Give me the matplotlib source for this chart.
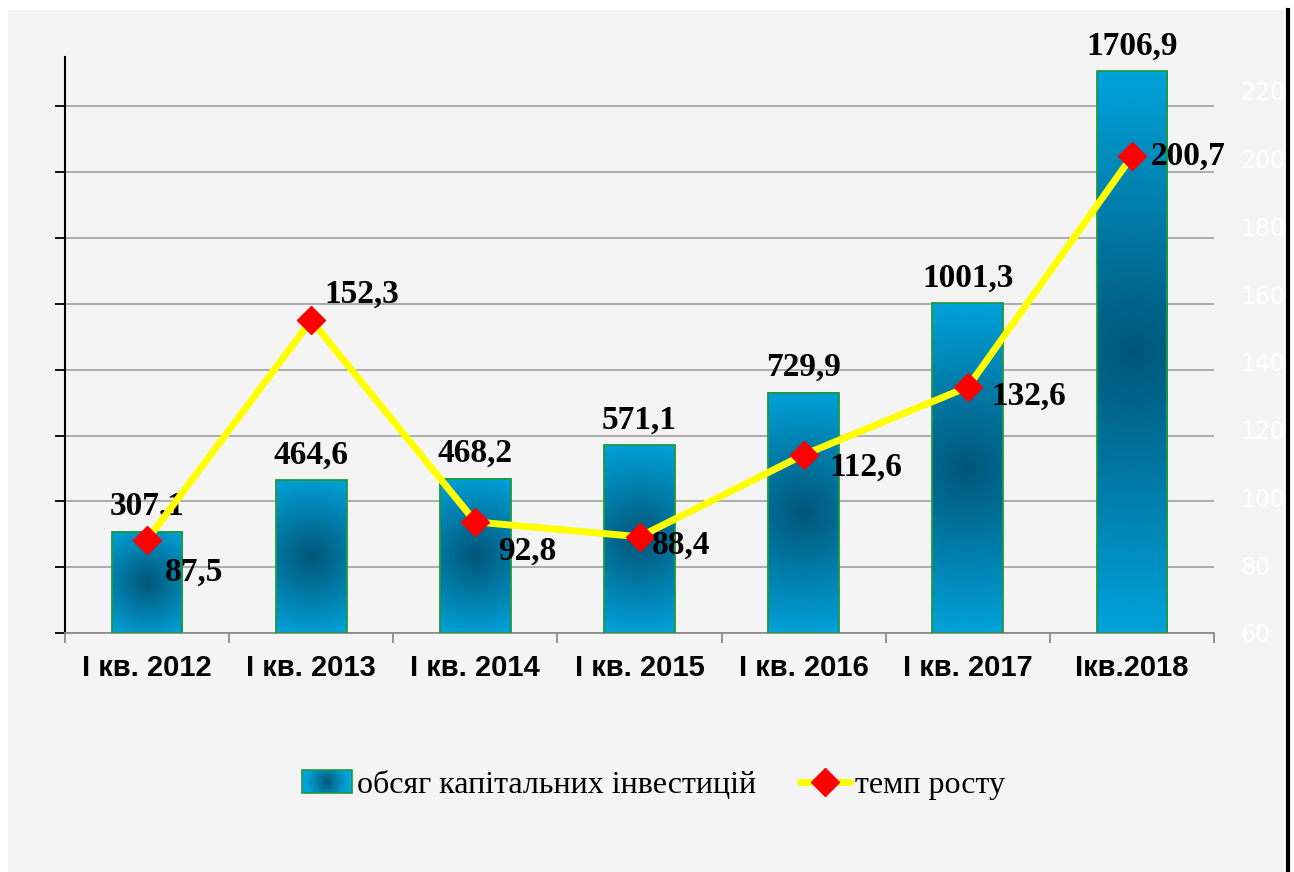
import numpy as np
import matplotlib.pyplot as plt
from matplotlib.patches import Rectangle
from matplotlib.lines import Line2D
from matplotlib.legend_handler import HandlerBase

categories = ['І кв. 2012', 'І кв. 2013', 'І кв. 2014', 'І кв. 2015',
              'І кв. 2016', 'І кв. 2017', 'Ікв.2018']
investment = [307.1, 464.6, 468.2, 571.1, 729.9, 1001.3, 1706.9]
growth_rate = [87.5, 152.3, 92.8, 88.4, 112.6, 132.6, 200.7]
rate_ticks = [60, 80, 100, 120, 140, 160, 180, 200, 220]

# label offsets for the line values, in pixels (x right, y up)
rate_label_offsets = [(47, -32), (51, 26), (52, -29), (42, -8), (62, -12), (61, -9), (56, 0)]

dark = np.array([0, 86, 120]) / 255
light = np.array([0, 163, 219]) / 255


def fmt(v):
    return f'{v:.1f}'.replace('.', ',')


class GradHandler(HandlerBase):
    def create_artists(self, legend, orig_handle, xdescent, ydescent,
                       width, height, fontsize, trans):
        arts = []
        nx, ny = 24, 6
        x0, y0 = -xdescent, -ydescent
        for i in range(nx):
            for j in range(ny):
                u = ((i + 0.5) / nx - 0.5) * width
                w = ((j + 0.5) / ny - 0.5) * height
                d = np.hypot(u, w) / np.hypot(width / 2, height / 2)
                c = dark + (light - dark) * min(d * 1.3, 1)
                arts.append(Rectangle((x0 + i * width / nx, y0 + j * height / ny),
                                      width / nx * 1.05, height / ny * 1.05,
                                      facecolor=c, edgecolor='none', transform=trans))
        arts.append(Rectangle((x0, y0), width, height, fill=False,
                              edgecolor='#1f9a3c', lw=1.2, transform=trans))
        return arts


W, H = 1294, 872
fig = plt.figure(figsize=(W / 100, H / 100), dpi=100)
fig.patches.append(Rectangle((8 / W, 0), (1284 - 8) / W, (H - 10) / H,
                             transform=fig.transFigure, facecolor='#f4f4f4',
                             edgecolor='none', zorder=-10))
fig.add_artist(Line2D([1287.5 / W] * 2, [0, (H - 10) / H], color='black', lw=3,
                      transform=fig.transFigure))

ax = fig.add_axes([65 / W, 239 / H, 1149 / W, 576 / H])
ax.set_facecolor('none')
x = np.arange(len(categories))
ax.set_xlim(-0.5, len(categories) - 0.5)
ax.set_ylim(0, 1750)
ax.set_yticks(range(0, 1601, 200))
ax.set_yticklabels([])
ax.grid(axis='y', color='#a6a6a6', lw=1.3)
ax.set_axisbelow(True)
ax.tick_params(axis='y', length=7, width=1.3, color='black')
for s in ['top', 'right']:
    ax.spines[s].set_visible(False)
ax.spines['left'].set_color('black')
ax.spines['left'].set_linewidth(1.5)
ax.spines['bottom'].set_color('#8c8c8c')
ax.spines['bottom'].set_linewidth(1.3)
ax.set_xticks(x)
ax.set_xticklabels(categories, fontsize=21, fontweight='bold', family='Liberation Sans')
ax.set_xticks(np.arange(-0.5, len(categories), 1), minor=True)
ax.tick_params(axis='x', which='major', length=0, pad=15)
ax.tick_params(axis='x', which='minor', length=7, width=1.3, color='#8c8c8c')

# bars with radial gradient
bw = 0.43
px_x = 1149 / len(categories)
px_y = 576 / 1750
for i, v in enumerate(investment):
    x0 = i - bw / 2
    hw = bw * px_x / 2
    hh = v * px_y / 2
    X = np.linspace(-hw, hw, int(2 * hw))
    Y = np.linspace(-hh, hh, max(int(2 * hh), 2))
    XX, YY = np.meshgrid(X, Y)
    d = np.hypot(XX, YY) / np.hypot(hw, hh)
    img = dark + (light - dark) * d[..., None]
    ax.imshow(img, extent=[x0, x0 + bw, 0, v], aspect='auto', origin='lower',
              interpolation='bilinear', zorder=2)
    ax.add_patch(Rectangle((x0, 0), bw, v, fill=False, edgecolor='#1f9a3c',
                           lw=1.3, zorder=3))
    ax.annotate(fmt(v), (i, v), xytext=(0, 12), textcoords='offset points',
                ha='center', va='baseline', fontsize=24, fontweight='bold',
                family='Liberation Serif', zorder=5)
ax.set_xlim(-0.5, len(categories) - 0.5)
ax.set_ylim(0, 1750)

ax2 = ax.twinx()
ax2.set_ylim(60, 230)
ax2.set_yticks(rate_ticks)
ax2.tick_params(axis='y', length=0, labelcolor='white', labelsize=17, pad=19)
for s in ax2.spines.values():
    s.set_visible(False)
line, = ax2.plot(x, growth_rate, color='#ffff00', lw=5, marker='D', ms=14,
                 mfc='#ff0000', mec='#ff0000', zorder=3)
for i, v in enumerate(growth_rate):
    dx, dy = rate_label_offsets[i]
    ax2.annotate(fmt(v), (i, v), xytext=(dx * 0.72, dy * 0.72), textcoords='offset points',
                 ha='center', va='center', fontsize=24, fontweight='bold',
                 family='Liberation Serif', zorder=5)

bar_proxy = Rectangle((0, 0), 1, 1)
line_proxy = Line2D([], [], color='#ffff00', lw=5, marker='D', ms=14,
                    mfc='#ff0000', mec='#ff0000', solid_capstyle='round')
fig.legend([bar_proxy, line_proxy], ['обсяг капітальних інвестицій', 'темп росту'],
           handler_map={bar_proxy: GradHandler()}, loc='center',
           bbox_to_anchor=(0.505, 1 - 785 / H), ncol=2, frameon=False,
           prop={'family': 'Liberation Serif', 'size': 23},
           handlelength=1.55, handletextpad=0.15, columnspacing=1.4)

fig.savefig('out.png', dpi=100)
